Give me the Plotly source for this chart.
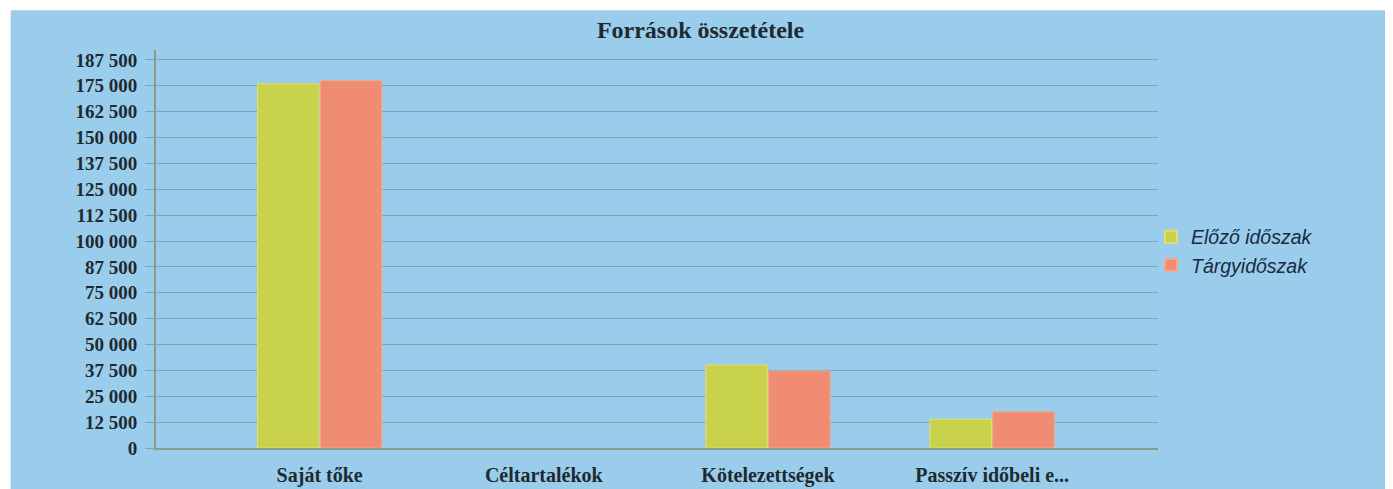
import plotly.graph_objects as go

categories = ["Saját tőke", "Céltartalékok", "Kötelezettségek", "Passzív időbeli e..."]
elozo = [176000, 0, 40100, 13900]
targy = [177500, 0, 37200, 17500]
series_names = ["Előző időszak", "Tárgyidőszak"]
tick_vals = [i * 12500 for i in range(16)]
tick_text = [f"{v:,}".replace(",", " ") for v in tick_vals]

line_w = [0 if v == 0 else 1 for v in elozo]

fig = go.Figure()
fig.add_bar(x=categories, y=elozo, name=f"<i>{series_names[0]}</i>",
            marker=dict(color="#c9d24c", line=dict(color="#e4de6a", width=line_w)))
fig.add_bar(x=categories, y=targy, name=f"<i>{series_names[1]}</i>",
            marker=dict(color="#ef8c72", line=dict(color="#f4a88c", width=line_w)))

fig.update_layout(
    width=1385, height=481,
    margin=dict(l=148, r=235, t=42, b=41, autoexpand=False),
    paper_bgcolor="white",
    plot_bgcolor="rgba(0,0,0,0)",
    barmode="group", bargap=0.44, bargroupgap=0.02,
    title=dict(text="<b>Források összetétele</b>", x=0.5, xanchor="center", y=0.955, yanchor="middle",
               font=dict(family="Liberation Serif", size=24, color="#1e2a30")),
    showlegend=True,
    legend=dict(x=0.993, y=0.495, xanchor="left", yanchor="middle", bgcolor="rgba(0,0,0,0)",
                font=dict(family="Liberation Sans", size=19.5, color="#1a2a40"),
                itemsizing="constant", tracegroupgap=3),
    xaxis=dict(range=[-0.73, 3.74], showgrid=False, showline=True, linecolor="#8a9a8e", linewidth=2,
               ticks="", tickfont=dict(family="Liberation Serif", size=20, color="#1e2a30"),
               ticklabelstandoff=8, automargin=False),
    yaxis=dict(range=[0, 192300], tickvals=tick_vals, ticktext=[f"<b>{t}</b>" for t in tick_text],
               showgrid=True, gridcolor="#7fa3b8", gridwidth=1,
               showline=True, linecolor="#8a9a8e", linewidth=2, zeroline=False,
               ticks="outside", ticklen=9, tickcolor="#7fa3b8",
               ticklabelstandoff=4, automargin=False,
               tickfont=dict(family="Liberation Serif", size=19, color="#1e2a30")),
    shapes=[dict(type="rect", xref="paper", yref="paper", x0=-0.145, x1=1.25, y0=-0.11, y1=1.1,
                 fillcolor="#9acdec", line=dict(width=0), layer="below")],
)
fig.update_xaxes(tickvals=list(range(4)), ticktext=[f"<b>{c}</b>" for c in categories])
fig.write_html("out.html")
